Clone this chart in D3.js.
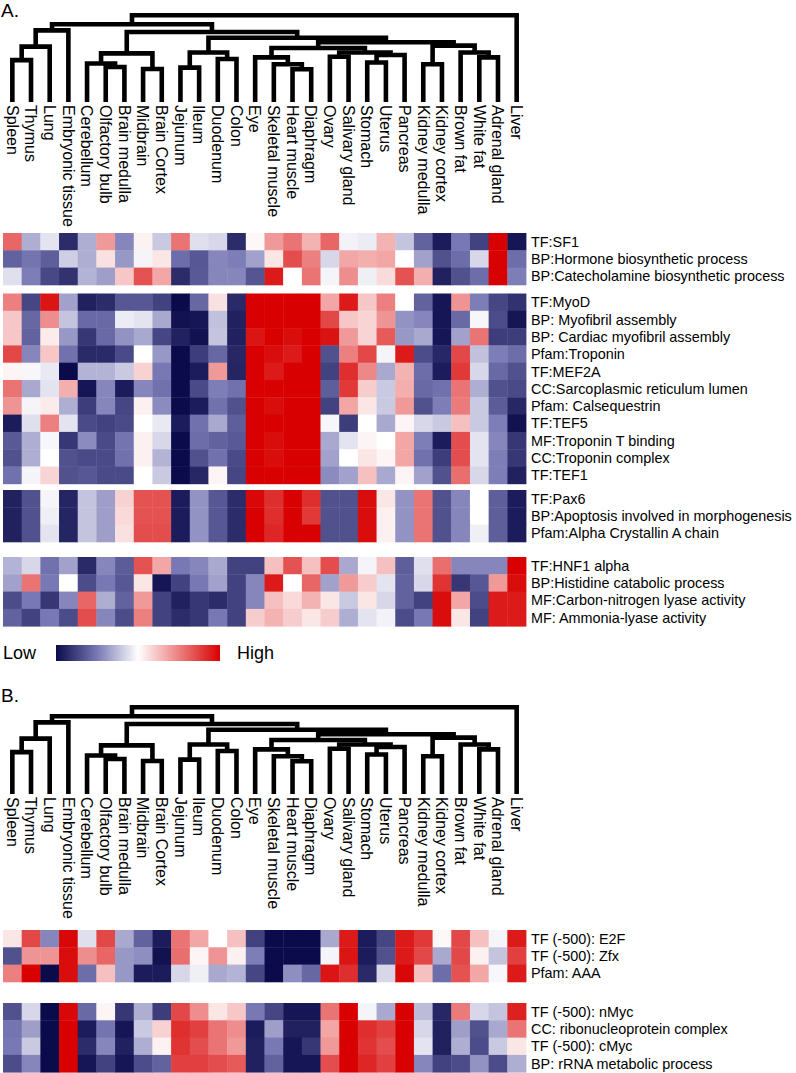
<!DOCTYPE html>
<html><head><meta charset="utf-8">
<script src="https://cdn.jsdelivr.net/npm/d3@7"></script>
<style>
body{margin:0;background:#fff}
svg{display:block}
text{font-family:"Liberation Sans",Arial,Helvetica,sans-serif;fill:#000}
</style>
</head><body>
<svg id="chart" width="796" height="1073"></svg>
<script>
// ---------------- DATA ----------------
const tissues = ["Spleen","Thymus","Lung","Embryonic tissue","Cerebellum","Olfactory bulb","Brain medulla","Midbrain","Brain Cortex","Jejunum","Ileum","Duodenum","Colon","Eye","Skeletal muscle","Heart muscle","Diaphragm","Ovary","Salivary gland","Stomach","Uterus","Pancreas","Kidney medulla","Kidney cortex","Brown fat","White fat","Adrenal gland","Liver"];

// hierarchical clustering merges: [left, right, height]; "mN" refers to merge N
const merges = [
  ["Spleen","Thymus",0.483],
  ["m0","Lung",0.638],
  ["m1","Embryonic tissue",0.825],
  ["Olfactory bulb","Brain medulla",0.403],
  ["Cerebellum","m3",0.444],
  ["Midbrain","Brain Cortex",0.38],
  ["m4","m5",0.56],
  ["Jejunum","Ileum",0.396],
  ["Duodenum","Colon",0.495],
  ["m7","m8",0.571],
  ["Heart muscle","Diaphragm",0.377],
  ["Skeletal muscle","m10",0.435],
  ["Eye","m11",0.514],
  ["Ovary","Salivary gland",0.521],
  ["Stomach","Uterus",0.455],
  ["m14","Pancreas",0.541],
  ["m13","m15",0.571],
  ["m12","m16",0.622],
  ["Kidney medulla","Kidney cortex",0.435],
  ["White fat","Adrenal gland",0.514],
  ["Brown fat","m19",0.571],
  ["m18","m20",0.65],
  ["m17","m21",0.689],
  ["m9","m22",0.74],
  ["m6","m23",0.806],
  ["m2","m24",0.895],
  ["m25","Liver",1.0]
];

const colorStops = [-1,-0.5,0,0.5,1];
const colorValues = ["#0b0b4b","#7878b4","#ffffff","#ec8080","#d80000"];
const legendText = ["Low","High"];
const panelTitles = ["A.","B."];

// Panel A block 1
const a1Labels = ["TF:SF1","BP:Hormone biosynthetic process","BP:Catecholamine biosynthetic process"];
const a1Values = [
  [0.6,-0.3,-0.1,-0.85,-0.3,0.4,-0.45,0.05,-0.2,0.55,-0.12,-0.15,-0.85,0.03,0.4,0.55,0.3,0.6,-0.05,-0.07,0.3,-0.22,-0.6,-0.92,-0.5,-0.75,1,-0.95],
  [-0.6,-0.52,-0.62,-0.18,-0.3,0.12,-0.38,-0.04,0.1,-0.55,-0.65,-0.45,-0.48,-0.35,0.1,0.7,0.5,-0.15,0.35,0.32,0.35,0,-0.35,-0.68,-0.55,-0.15,1,-0.55],
  [-0.12,-0.48,-0.72,-0.82,-0.28,-0.36,0.22,0.68,0.35,-0.85,-0.64,-0.45,-0.45,-0.66,0.9,0,0.55,-0.04,0.45,-0.06,0.14,0.68,0.32,-0.9,-0.68,-0.55,1,-0.48]
];

// Panel A block 2
const a2Labels = ["TF:MyoD","BP: Myofibril assembly","BP: Cardiac myofibril assembly","Pfam:Troponin","TF:MEF2A","CC:Sarcoplasmic reticulum lumen","Pfam: Calsequestrin","TF:TEF5","MF:Troponin T binding","CC:Troponin complex","TF:TEF1"];
const a2Values = [
  [0.5,-0.73,0.92,-0.35,-0.9,-0.85,-0.65,-0.65,-0.75,-1,-0.58,0.12,-0.86,1,1,1,1,0.35,0.9,0.22,0.5,0,-0.6,-0.95,0.42,-0.48,-0.73,-0.82],
  [0.22,-0.58,0.45,-0.22,-0.57,-0.57,-0.07,-0.1,-0.32,-0.97,-0.95,-0.23,-0.9,1,1,1,1,0.72,0.22,0.17,0.42,-0.4,-0.45,-0.95,-0.57,-0.03,-0.7,-0.95],
  [0.22,-0.6,0.08,-0.38,-0.8,-0.57,-0.4,-0.32,-0.73,-0.9,-0.97,-0.22,-0.9,0.92,1,0.95,1,0.93,0.4,0.17,0.65,-0.38,-0.32,-0.95,-0.35,0.55,-0.77,-0.77],
  [0.72,-0.45,0.22,-0.53,-0.86,-0.86,-0.71,0,-0.38,-1,-0.77,-0.58,-0.87,1,0.95,0.9,1,-0.68,0.5,0.72,-0.04,0.9,-0.7,-0.87,0.72,-0.23,-0.48,-0.55],
  [0.04,-0.03,-0.08,-1,-0.28,-0.28,-0.2,0.18,-0.5,-1,-0.92,0.4,-0.88,1,0.9,1,1,-0.75,0.82,0.47,-0.32,0.3,-0.55,-0.92,0.78,-0.15,-0.57,-0.68],
  [0.55,-0.32,-0.1,0.32,-0.95,-0.45,-0.92,-0.45,-0.53,-1,-0.71,-0.48,-0.53,1,1,1,1,-0.62,0.78,0.2,-0.2,0.32,-0.57,-0.53,0.55,-0.3,-0.68,-0.71],
  [0.42,-0.04,0.08,-0.3,-0.77,-0.45,-0.73,0.06,-0.43,-1,-0.92,-0.53,-0.68,1,0.95,1,1,-0.75,0.35,0.1,-0.2,0.4,-0.68,-0.48,0.52,-0.2,-0.63,-0.87],
  [-0.92,-0.12,0.5,-0.1,-0.71,-0.75,-0.71,0,-0.08,-0.92,-0.53,-0.32,-0.62,1,1,1,1,-0.03,-0.77,0,-0.32,0.04,-0.15,-0.2,0.25,-0.2,-0.48,-0.97],
  [-0.64,-0.3,-0.03,-0.8,-0.43,-0.71,-0.52,0.06,-0.15,-1,-0.55,-0.6,-0.64,1,0.95,1,1,-0.32,-0.1,0.04,0,0.35,-0.48,-0.92,0.7,-0.1,-0.45,-0.8],
  [-0.68,-0.3,0,-0.68,-0.71,-0.71,-0.53,0.06,-0.28,-1,-0.68,-0.53,-0.71,1,0.95,1,1,-0.35,0,0.1,0.04,0.35,-0.53,-0.77,0.7,-0.1,-0.48,-0.8],
  [-0.53,-0.04,0.17,-0.68,-0.65,-0.71,-0.71,0,-0.2,-1,-0.87,0.04,-0.73,1,1,1,1,-0.43,-0.35,0.25,-0.32,0.04,-0.35,-0.68,0.57,-0.15,-0.48,-0.9]
];

// Panel A block 3
const a3Labels = ["TF:Pax6","BP:Apoptosis involved in morphogenesis","Pfam:Alpha Crystallin A chain"];
const a3Values = [
  [-0.9,-0.68,-0.04,-0.88,-0.22,-0.36,0.18,0.68,0.68,-0.92,-0.4,-0.65,-0.85,0.97,0.82,1,0.82,-0.68,-0.68,0.95,0.1,-0.4,0.55,-0.68,-0.45,0,-0.62,-0.92],
  [-0.9,-0.68,-0.06,-0.88,-0.22,-0.36,0.15,0.68,0.68,-0.92,-0.4,-0.65,-0.85,1,0.82,1,0.78,-0.68,-0.68,0.95,0.06,-0.4,0.55,-0.68,-0.45,0,-0.62,-0.92],
  [-0.9,-0.68,-0.1,-0.88,-0.22,-0.36,0.12,0.7,0.7,-0.92,-0.4,-0.65,-0.85,1,0.85,1,1,-0.68,-0.68,0.95,0.06,-0.4,0.55,-0.68,-0.45,-0.06,-0.62,-0.92]
];

// Panel A block 4
const a4Labels = ["TF:HNF1 alpha","BP:Histidine catabolic process","MF:Carbon-nitrogen lyase activity","MF: Ammonia-lyase activity"];
const a4Values = [
  [-0.28,-0.15,-0.53,-0.35,-0.86,-0.45,-0.63,0.68,0.35,-0.5,-0.45,-0.32,-0.75,-0.75,0.25,0.68,0.25,0.7,-0.32,-0.04,0.25,-0.62,-0.12,0.57,-0.45,-0.45,-0.45,1],
  [-0.35,0.55,-0.5,0,-0.7,-0.5,-0.65,0.1,-0.95,-0.75,-0.5,-0.35,-0.75,-0.45,0.9,0,0.6,-0.35,0.4,0.2,-0.1,-0.6,-0.15,0.8,-0.8,-0.65,0.4,0.95],
  [-0.7,-0.5,-0.8,-0.45,0.6,-0.3,-0.6,0.4,-0.75,-0.9,-0.8,-0.85,-0.75,-0.45,0.25,0.15,0.3,0.1,-0.2,0.1,-0.15,-0.6,-0.75,0.95,0.35,-0.7,0.9,0.9],
  [-0.6,-0.75,-0.5,-0.7,0.7,-0.45,-0.7,0.5,-0.75,-0.85,-0.8,-0.5,-0.75,0.2,0.3,0.2,0.1,0.2,-0.3,-0.1,-0.05,-0.7,-0.5,0.95,0.1,-0.75,0.9,0.9]
];

// Panel B block 1
const b1Labels = ["TF (-500): E2F","TF (-500): Zfx","Pfam: AAA"];
const b1Values = [
  [0.1,0.72,-0.45,0.97,-0.12,0.72,-0.32,-0.6,-0.92,0.55,0.35,0,0.25,-0.75,-1,-1,-1,-0.32,0.9,-0.92,-0.73,0.9,0.78,0.03,0.72,0.25,-0.04,0.9],
  [-0.68,0.42,0.42,0.95,0.45,0.6,-0.38,-0.42,-0.97,0.57,0.04,0.42,0.06,-0.48,-1,-1,-1,-0.04,0.92,-0.92,-0.68,0.9,0.72,-0.32,0.72,0.06,-0.22,0.75],
  [0.5,1,-1,0.95,-0.55,0.25,-0.38,-0.92,-0.92,-0.15,-0.06,-0.32,-0.28,-0.73,-1,-0.42,-0.58,0.92,0.82,-0.86,-0.15,0.97,0.25,-0.55,0.68,0.35,-0.03,0.9]
];

// Panel B block 2
const b2Labels = ["TF (-500): nMyc","CC: ribonucleoprotein complex","TF (-500): cMyc","BP: rRNA metabolic process"];
const b2Values = [
  [-0.68,-0.15,-1,0.97,-0.57,0.04,-0.8,-0.3,-0.77,0.72,0.45,0.1,0.22,-0.5,-0.73,-0.95,-0.95,0.55,1,-0.04,-0.32,1,-0.25,-0.87,0.52,-0.15,-0.22,0.87],
  [-0.52,-0.36,-1,1,-0.92,-0.52,-0.95,-0.2,0.18,0.82,0.75,0.55,0.45,-0.92,-0.36,-0.9,-0.9,0.35,1,0.82,0.75,1,-0.15,-0.9,-0.36,-0.68,-0.32,0.55],
  [-0.5,-0.2,-1,1,-0.85,-0.45,-0.9,-0.3,0.05,0.8,0.7,0.55,0.4,-0.9,-0.5,-0.95,-0.8,0.4,1,0.8,0.7,1,-0.1,-0.9,-0.3,-0.7,-0.2,0.1],
  [-0.7,-0.45,-1,1,-0.95,-0.75,-0.95,-0.7,-0.6,0.75,0.75,0.7,0.65,-0.9,-0.6,-0.95,-0.95,0.7,1,0.85,0.75,1,-0.45,-0.75,-0.7,-0.4,-0.7,-0.3]
];

// ---------------- LAYOUT ----------------
const L = {
  heatLeft: 3, heatRight: 526, rowH: 17.3,
  labelX: 531, labelSize: 14.4,
  panels: [
    {title: 0, titleY: 17, dendTop: 15.2, dendBottom: 102, colLabelY: 105,
     blocks: [[a1Labels,a1Values,233],[a2Labels,a2Values,293.5],[a3Labels,a3Values,490],[a4Labels,a4Values,557]]},
    {title: 1, titleY: 702, dendTop: 707.2, dendBottom: 794, colLabelY: 797,
     blocks: [[b1Labels,b1Values,930],[b2Labels,b2Values,1003]]}
  ]
};

const svg = d3.select("#chart");
const color = d3.scaleLinear().domain(colorStops).range(colorValues).clamp(true);
const x = d3.scaleBand().domain(tissues).range([L.heatLeft, L.heatRight]).padding(0);
const bw = x.bandwidth();

function buildTree() {
  const nodes = {};
  tissues.forEach(t => nodes[t] = {name: t, height: 0});
  merges.forEach((m, i) => {
    nodes["m" + i] = {name: "m" + i, height: m[2], children: [nodes[m[0]], nodes[m[1]]]};
  });
  return nodes["m" + (merges.length - 1)];
}
const treeData = buildTree();

function drawDendrogram(g, top, bottom) {
  const root = d3.hierarchy(treeData);
  const y = d3.scaleLinear().domain([0, 1]).range([bottom, top]);
  root.eachAfter(n => {
    if (!n.children) n.px = x(n.data.name) + bw / 2;
    else n.px = (n.children[0].px + n.children[1].px) / 2;
    n.py = y(n.data.height);
  });
  g.selectAll("path.link").data(root.descendants().filter(n => n.children))
    .join("path")
    .attr("fill", "none").attr("stroke", "#000").attr("stroke-width", 4.6)
    .attr("stroke-linejoin", "miter").attr("stroke-linecap", "butt")
    .attr("d", n => {
      const a = n.children[0], b = n.children[1];
      return `M${a.px},${a.py}V${n.py}H${b.px}V${b.py}`;
    });
}

function drawBlock(g, labels, values, top) {
  const y = d3.scaleBand().domain(labels).range([top, top + labels.length * L.rowH]);
  const cells = [];
  values.forEach((row, r) => row.forEach((v, c) => cells.push({r: labels[r], c: tissues[c], v})));
  g.append("g").selectAll("rect").data(cells).join("rect")
    .attr("x", d => x(d.c)).attr("y", d => y(d.r))
    .attr("width", bw + 0.4).attr("height", y.bandwidth() + 0.4)
    .attr("fill", d => color(d.v));
  g.append("g").selectAll("text").data(labels).join("text")
    .attr("x", L.labelX).attr("y", d => y(d) + y.bandwidth() / 2)
    .attr("dy", "0.36em").attr("font-size", L.labelSize).text(d => d);
}

L.panels.forEach(p => {
  const g = svg.append("g");
  g.append("text").attr("x", 1).attr("y", p.titleY).attr("font-size", 19).text(panelTitles[p.title]);
  drawDendrogram(g.append("g"), p.dendTop, p.dendBottom);
  g.append("g").selectAll("text").data(tissues).join("text")
    .attr("transform", d => `translate(${x(d) + bw / 2},${p.colLabelY}) rotate(90)`)
    .attr("dy", "0.36em").attr("font-size", 16).text(d => d);
  p.blocks.forEach(b => drawBlock(g, b[0], b[1], b[2]));
});

// legend
const defs = svg.append("defs");
const grad = defs.append("linearGradient").attr("id", "lg");
d3.range(0, 1.0001, 0.05).forEach(t => {
  grad.append("stop").attr("offset", t).attr("stop-color", color(-1 + 2 * t));
});
const lg = svg.append("g");
lg.append("rect").attr("x", 56).attr("y", 645).attr("width", 164).attr("height", 16).attr("fill", "url(#lg)");
lg.append("text").attr("x", 3).attr("y", 653).attr("dy", "0.36em").attr("font-size", 18).text(legendText[0]);
lg.append("text").attr("x", 237).attr("y", 653).attr("dy", "0.36em").attr("font-size", 18).text(legendText[1]);
</script>
</body></html>
